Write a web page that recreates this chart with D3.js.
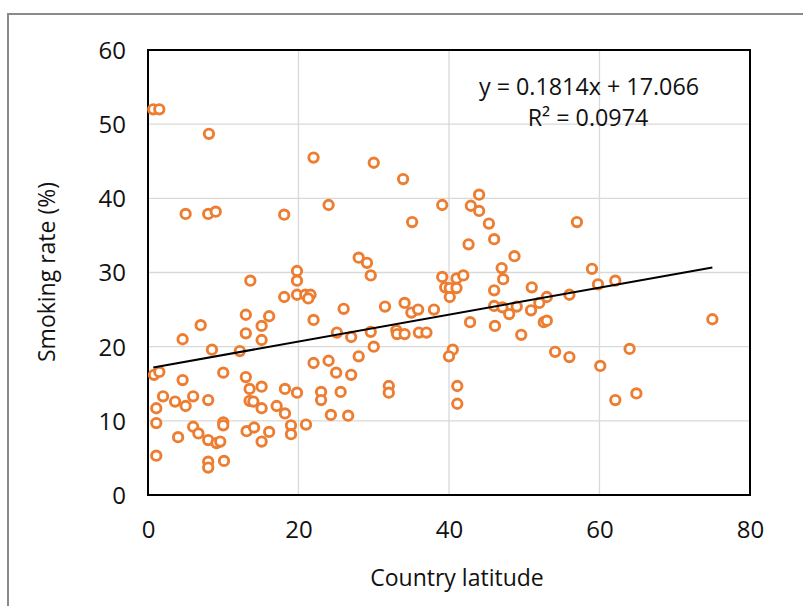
<!DOCTYPE html>
<html>
<head>
<meta charset="utf-8">
<script src="https://cdn.jsdelivr.net/npm/d3@7"></script>
<style>
  body { margin: 0; background: #fff; }
  svg { display: block; font-family: "Open Sans", sans-serif; }
</style>
</head>
<body>
<svg id="chart" width="803" height="606"></svg>
<script>
// country latitude (x) and smoking rate % (y)
const latitude = [
  0.7, 1.5, 8.1, 5.0, 8.0, 9.0, 18.1, 13.6, 19.8, 19.8,
  18.1, 19.8, 20.9, 21.6, 21.3, 7.0, 4.6, 8.5, 12.2, 13.0,
  16.1, 15.1, 13.0, 15.1, 0.8, 1.5, 4.6, 10.0, 13.0, 13.5,
  15.1, 18.2, 19.8, 2.0, 1.1, 3.6, 5.0, 6.0, 8.0, 13.5,
  14.0, 15.1, 17.1, 18.2, 19.0, 19.0, 1.1, 6.0, 6.7, 4.0,
  8.0, 9.1, 9.6, 10.0, 10.0, 13.1, 14.1, 16.1, 15.1, 1.1,
  8.0, 8.0, 10.1, 22.0, 30.0, 33.9, 24.0, 39.1, 35.1, 28.0,
  29.1, 29.6, 39.1, 26.0, 31.5, 34.1, 35.0, 35.9, 38.0, 22.0,
  25.1, 27.0, 29.6, 33.0, 33.1, 34.1, 36.0, 37.0, 30.0, 28.0,
  22.0, 24.0, 25.0, 27.0, 23.0, 23.0, 25.6, 32.0, 32.0, 24.3,
  26.6, 21.0, 40.5, 40.0, 44.0, 42.9, 44.0, 45.3, 46.0, 42.6,
  48.7, 47.0, 47.2, 57.0, 59.0, 59.8, 41.0, 41.9, 39.5, 40.1,
  41.0, 40.1, 46.0, 51.0, 53.0, 56.0, 46.0, 47.1, 48.0, 49.0,
  50.9, 52.0, 42.8, 46.1, 52.6, 53.0, 49.6, 54.1, 56.0, 62.1,
  75.0, 64.0, 60.1, 64.9, 62.1, 41.1, 41.1
];
const smokingRate = [
  52.0, 52.0, 48.7, 37.9, 37.9, 38.2, 37.8, 28.9, 30.2, 28.9,
  26.7, 27.0, 27.0, 27.0, 26.5, 22.9, 21.0, 19.6, 19.4, 24.3,
  24.1, 22.8, 21.8, 20.9, 16.2, 16.6, 15.5, 16.5, 15.9, 14.3,
  14.6, 14.3, 13.8, 13.3, 11.7, 12.6, 12.0, 13.3, 12.8, 12.7,
  12.6, 11.7, 12.0, 11.0, 9.4, 8.2, 9.7, 9.2, 8.3, 7.8,
  7.4, 7.0, 7.2, 9.8, 9.4, 8.6, 9.1, 8.5, 7.2, 5.3,
  4.5, 3.7, 4.6, 45.5, 44.8, 42.6, 39.1, 39.1, 36.8, 32.0,
  31.3, 29.6, 29.4, 25.1, 25.4, 25.9, 24.6, 25.0, 25.0, 23.6,
  21.9, 21.3, 22.0, 22.2, 21.7, 21.7, 21.9, 21.9, 20.0, 18.7,
  17.8, 18.1, 16.5, 16.2, 13.9, 12.8, 13.9, 14.7, 13.8, 10.8,
  10.7, 9.5, 19.6, 18.7, 40.5, 39.0, 38.3, 36.6, 34.5, 33.8,
  32.2, 30.6, 29.1, 36.8, 30.5, 28.4, 29.2, 29.6, 28.0, 27.9,
  27.9, 26.7, 27.6, 28.0, 26.7, 27.0, 25.5, 25.3, 24.4, 25.4,
  24.9, 25.9, 23.3, 22.8, 23.3, 23.5, 21.6, 19.3, 18.6, 28.9,
  23.7, 19.7, 17.4, 13.7, 12.8, 14.7, 12.3
];
const xTicks = [0, 20, 40, 60, 80];
const yTicks = [0, 10, 20, 30, 40, 50, 60];
// trendline as printed on the chart
const slope = 0.1814;
const intercept = 17.066;
const rSquared = 0.0974;

const points = latitude.map((x, i) => ({ x: x, y: smokingRate[i] }));

const svg = d3.select("#chart");
const margin = { left: 148, right: 53, top: 50, bottom: 111 };
const width = 803 - margin.left - margin.right;
const height = 606 - margin.top - margin.bottom;

// outer chart border
svg.append("rect")
  .attr("x", 8).attr("y", 14)
  .attr("width", 820).attr("height", 620)
  .attr("fill", "none")
  .attr("stroke", "#8a8a8a")
  .attr("stroke-width", 2);

const g = svg.append("g")
  .attr("transform", `translate(${margin.left},${margin.top})`);

const x = d3.scaleLinear().domain([0, 80]).range([0, width]);
const y = d3.scaleLinear().domain([0, 60]).range([height, 0]);

// gridlines
g.append("g")
  .attr("class", "grid")
  .selectAll("line.h")
  .data(yTicks)
  .enter()
  .append("line")
  .attr("x1", 0).attr("x2", width)
  .attr("y1", (d) => y(d)).attr("y2", (d) => y(d))
  .attr("stroke", "#d9d9d9")
  .attr("stroke-width", 1.3);

g.append("g")
  .attr("class", "grid")
  .selectAll("line.v")
  .data(xTicks)
  .enter()
  .append("line")
  .attr("y1", 0).attr("y2", height)
  .attr("x1", (d) => x(d)).attr("x2", (d) => x(d))
  .attr("stroke", "#d9d9d9")
  .attr("stroke-width", 1.3);

// axes (labels only)
const xAxis = g.append("g")
  .attr("transform", `translate(0,${height})`)
  .call(d3.axisBottom(x).tickValues(xTicks).tickSize(0).tickPadding(26));
const yAxis = g.append("g")
  .call(d3.axisLeft(y).tickValues(yTicks).tickSize(0).tickPadding(22));
[xAxis, yAxis].forEach((a) => {
  a.select(".domain").remove();
  a.selectAll("text")
    .attr("font-family", "Open Sans, sans-serif")
    .attr("font-size", 24)
    .attr("fill", "#111");
});
yAxis.selectAll("text").attr("dy", "0.35em");
xAxis.selectAll("text").attr("dy", "0.71em");

// plot frame
g.append("rect")
  .attr("width", width).attr("height", height)
  .attr("fill", "none")
  .attr("stroke", "#000")
  .attr("stroke-width", 2);

// markers
g.append("g")
  .selectAll("circle")
  .data(points)
  .enter()
  .append("circle")
  .attr("cx", (d) => x(d.x))
  .attr("cy", (d) => y(d.y))
  .attr("r", 4.7)
  .attr("fill", "#fff")
  .attr("stroke", "#ED7D31")
  .attr("stroke-width", 2.9);

// linear trendline across the data range
const xr = d3.extent(latitude);
g.append("line")
  .attr("x1", x(xr[0])).attr("y1", y(slope * xr[0] + intercept))
  .attr("x2", x(xr[1])).attr("y2", y(slope * xr[1] + intercept))
  .attr("stroke", "#000")
  .attr("stroke-width", 2);

// equation label
svg.append("text")
  .attr("x", 589).attr("y", 95)
  .attr("text-anchor", "middle")
  .attr("font-size", 23.3)
  .attr("fill", "#111")
  .text(`y = ${slope}x + ${intercept.toFixed(3)}`);
svg.append("text")
  .attr("x", 588).attr("y", 126)
  .attr("text-anchor", "middle")
  .attr("font-size", 23.3)
  .attr("fill", "#111")
  .text(`R² = ${rSquared}`);

// axis titles
svg.append("text")
  .attr("x", 457).attr("y", 586)
  .attr("text-anchor", "middle")
  .attr("font-size", 23)
  .attr("fill", "#111")
  .text("Country latitude");
svg.append("text")
  .attr("transform", "translate(55,272) rotate(-90)")
  .attr("text-anchor", "middle")
  .attr("font-size", 23)
  .attr("fill", "#111")
  .text("Smoking rate (%)");
</script>
</body>
</html>
